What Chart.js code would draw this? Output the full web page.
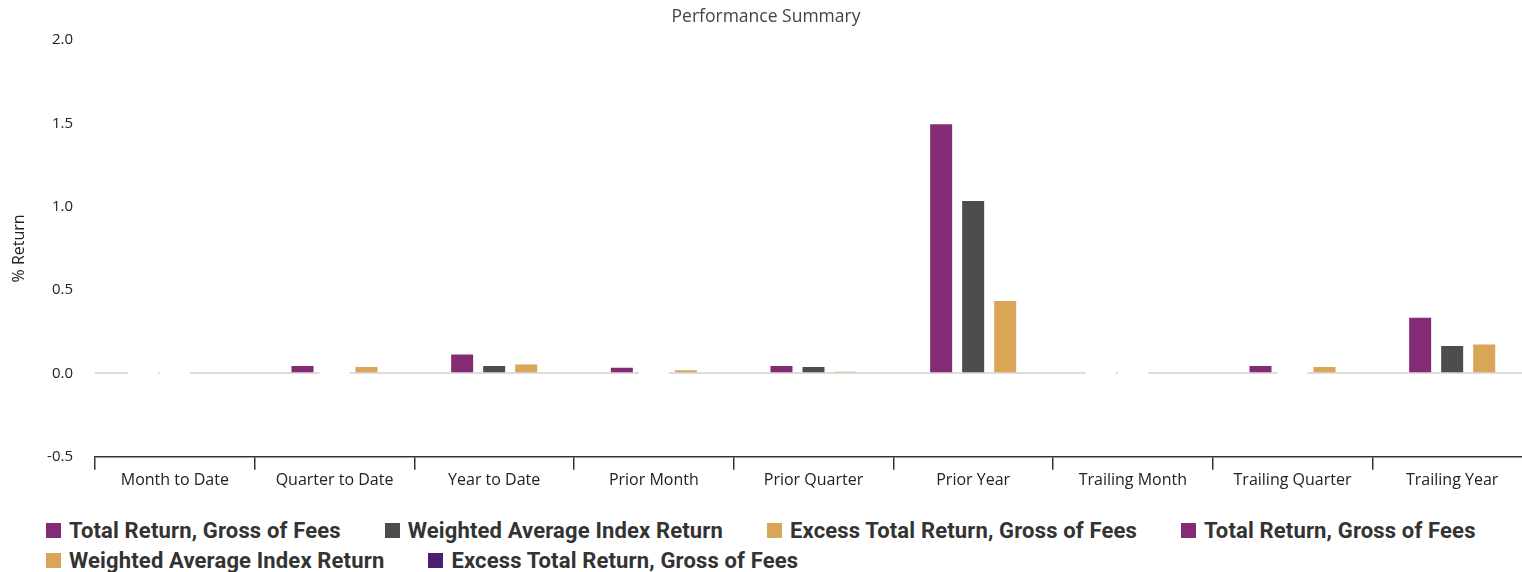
<!DOCTYPE html>
<html>
<head>
<meta charset="utf-8">
<title>Performance Summary</title>
<script src="https://cdn.jsdelivr.net/npm/chart.js@4.4.1/dist/chart.umd.min.js"></script>
<style>
    html, body { margin: 0; padding: 0; background: #fff; overflow: hidden; }
    #chart-box { position: absolute; left: 0; top: 0; width: 1532px; height: 498px; }
    #legend {
        position: absolute; left: 46px; top: 515px; width: 1600px;
        font-family: Roboto, sans-serif; font-weight: 700; font-size: 22px; letter-spacing: 0.15px; color: #333;
        display: flex; flex-wrap: wrap;
    }
    .legend-item { display: flex; align-items: center; height: 30px; margin-right: 44px; white-space: nowrap; }
    .legend-box { width: 15px; height: 15px; margin-right: 8px; }
</style>
</head>
<body>
<div id="chart-box"><canvas id="perf-chart"></canvas></div>
<div id="legend"></div>
<script>
const categories = ['Month to Date', 'Quarter to Date', 'Year to Date', 'Prior Month', 'Prior Quarter',
    'Prior Year', 'Trailing Month', 'Trailing Quarter', 'Trailing Year'];

const totalReturn = [0, 0.05, 0.12, 0.04, 0.05, 1.50, 0, 0.05, 0.34];
const indexReturn = [0, 0, 0.05, 0, 0.045, 1.04, 0, 0, 0.17];
const excessReturn = [null, 0.045, 0.06, 0.025, 0.015, 0.44, null, 0.045, 0.18];
const emptySeries = [null, null, null, null, null, null, null, null, null];

const yTicks = [-0.5, 0, 0.5, 1.0, 1.5, 2.0];

const PURPLE = '#842b75';
const GREY = '#4d4d4d';
const GOLD = '#d9a556';
const DARK_PURPLE = '#4b1f6f';

function barSet(label, data, color) {
    return {
        label: label,
        data: data,
        backgroundColor: color,
        borderColor: '#fff',
        borderWidth: 1,
        borderSkipped: 'start'
    };
}

// the second trio only shows up in the legend, they have no values
function legendOnly(label, color) {
    return { label: label, data: emptySeries, backgroundColor: color, grouped: false };
}

// bars sitting on zero still punch a white gap in the zero line
const zeroGapPlugin = {
    id: 'zeroGap',
    afterDatasetsDraw(chart) {
        const ctx = chart.ctx;
        const y0 = chart.scales.y.getPixelForValue(0);
        ctx.save();
        ctx.fillStyle = '#fff';
        chart.data.datasets.forEach((ds, i) => {
            chart.getDatasetMeta(i).data.forEach((bar, j) => {
                if (ds.data[j] === 0) {
                    ctx.fillRect(bar.x - bar.width / 2 - 3, y0 - 2, bar.width + 6, 4);
                }
            });
        });
        ctx.restore();
    }
};

const tickFont = { family: "'Open Sans', sans-serif", size: 16 };

const chart = new Chart(document.getElementById('perf-chart'), {
    type: 'bar',
    data: {
        labels: categories,
        datasets: [
            barSet('Total Return, Gross of Fees', totalReturn, PURPLE),
            barSet('Weighted Average Index Return', indexReturn, GREY),
            barSet('Excess Total Return, Gross of Fees', excessReturn, GOLD),
            legendOnly('Total Return, Gross of Fees', PURPLE),
            legendOnly('Weighted Average Index Return', GOLD),
            legendOnly('Excess Total Return, Gross of Fees', DARK_PURPLE)
        ]
    },
    options: {
        responsive: true,
        maintainAspectRatio: false,
        animation: false,
        categoryPercentage: 0.6015,
        barPercentage: 0.75,
        layout: { padding: { bottom: 7 } },
        plugins: {
            legend: { display: false },
            tooltip: { enabled: false },
            title: {
                display: true,
                text: 'Performance Summary',
                color: '#444',
                font: { family: "'Open Sans', sans-serif", size: 17.5, weight: 'normal' },
                padding: { top: 7, bottom: 12 }
            }
        },
        scales: {
            x: {
                grid: {
                    drawOnChartArea: false,
                    drawTicks: true,
                    tickLength: 13,
                    color: '#333',
                    lineWidth: 1.5
                },
                border: { display: true, color: '#333', width: 1.5 },
                ticks: { color: '#222', font: tickFont, padding: 1, maxRotation: 0 }
            },
            y: {
                min: yTicks[0],
                max: yTicks[yTicks.length - 1],
                afterBuildTicks: axis => { axis.ticks = yTicks.map(v => ({ value: v })); },
                afterFit: axis => { axis.width = 95; },
                grid: {
                    drawTicks: false,
                    lineWidth: 2,
                    color: ctx => (ctx.tick && ctx.tick.value === 0 ? '#dcdcdc' : 'rgba(0,0,0,0)')
                },
                border: { display: false },
                ticks: {
                    color: '#222',
                    font: { family: "'Open Sans', sans-serif", size: 15 },
                    padding: 22,
                    callback: v => Number(v).toFixed(1)
                },
                title: {
                    display: true,
                    text: '% Return',
                    color: '#222',
                    font: tickFont,
                    padding: { top: 10, bottom: 10 }
                }
            }
        }
    },
    plugins: [zeroGapPlugin]
});

// html legend, built from the datasets
let legendDiv = document.getElementById('legend');
chart.data.datasets.forEach(ds => {
    let item = document.createElement('div');
    item.className = 'legend-item';
    item.innerHTML = `<span class="legend-box" style="background:${ds.backgroundColor}"></span><span>${ds.label}</span>`;
    legendDiv.appendChild(item);
});
</script>
</body>
</html>
